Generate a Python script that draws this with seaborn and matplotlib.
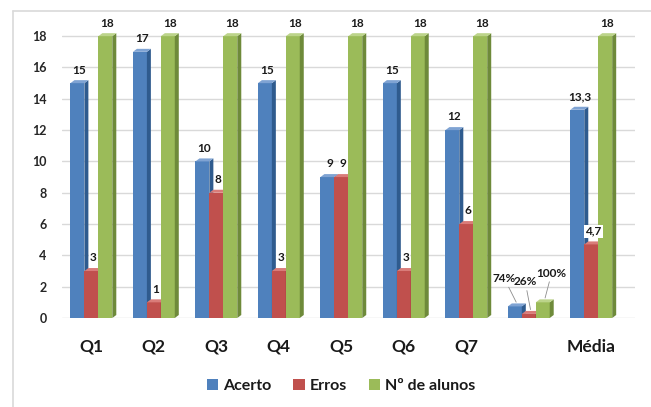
import matplotlib
matplotlib.use("Agg")
import matplotlib.pyplot as plt
from matplotlib.patches import Polygon, Patch
from matplotlib.lines import Line2D
import seaborn as sns
import pandas as pd

# --- data -------------------------------------------------------------
categories = ["Q1", "Q2", "Q3", "Q4", "Q5", "Q6", "Q7", " ", "Média"]
series = ["Acerto", "Erros", "Nº de alunos"]
acerto = [15, 17, 10, 15, 9, 15, 12, 0.74, 13.3]
erros = [3, 1, 8, 3, 9, 3, 6, 0.26, 4.7]
alunos = [18, 18, 18, 18, 18, 18, 18, 1.00, 18]
acerto_labels = ["15", "17", "10", "15", "9", "15", "12", "74%", "13,3"]
erros_labels = ["3", "1", "8", "3", "9", "3", "6", "26%", "4,7"]
alunos_labels = ["18", "18", "18", "18", "18", "18", "18", "100%", "18"]
y_ticks = [0, 2, 4, 6, 8, 10, 12, 14, 16, 18]

colors = ["#4F81BD", "#C0504D", "#9BBB59"]
side_colors = ["#2F5B8E", "#8E3A37", "#6E8A3A"]
top_colors = ["#7FA3D3", "#D97C79", "#BCD48A"]

df = pd.DataFrame({
    "cat": categories * 3,
    "serie": [s for s in series for _ in categories],
    "val": acerto + erros + alunos,
})
label_sets = [acerto_labels, erros_labels, alunos_labels]

# --- figure -------------------------------------------------------------
sns.set_theme(style="white")
plt.rcParams["font.family"] = ["Lato", "DejaVu Sans"]

W, H = 651, 407
fig = plt.figure(figsize=(W / 100, H / 100), dpi=100)

# outer frame of the chart area
fig.add_artist(Line2D([13 / W, 13 / W], [0, 1 - 11 / H], transform=fig.transFigure,
                      color="#D9D9D9", lw=1.2))
fig.add_artist(Line2D([13 / W, 1], [1 - 11 / H, 1 - 11 / H], transform=fig.transFigure,
                      color="#D9D9D9", lw=1.2))

ax = fig.add_axes([62 / W, 1 - 318 / H, 573 / W, (318 - 26) / H])
sns.barplot(data=df, x="cat", y="val", hue="serie", order=categories,
            hue_order=series, palette=colors, width=0.67, saturation=1,
            linewidth=0, legend=False, ax=ax)

ax.set_xlim(-0.47, 8.7)
ax.set_ylim(0, 18.65)
ax.set_yticks(y_ticks)
ax.grid(axis="y", color="#D9D9D9", lw=1.0)
ax.set_axisbelow(True)
for s in ax.spines.values():
    s.set_visible(False)
ax.set_xlabel("")
ax.set_ylabel("")
ax.tick_params(axis="y", length=0, pad=11, labelsize=9, labelcolor="#262626")
ax.tick_params(axis="x", length=0, pad=15, labelsize=12.5, labelcolor="#1a1a1a")
for t in ax.get_yticklabels() + ax.get_xticklabels():
    t.set_fontweight("bold")

# depth of the bars, in data units (about 4 px right, 3 px up)
fig.canvas.draw()
p0 = ax.transData.transform((0, 0))
p1 = ax.transData.transform((1, 1))
dx = 4 / (p1[0] - p0[0])
dy = 3 / (p1[1] - p0[1])

pct_offsets = [(-9, 14), (-4, 17), (5, 15)]
for i, cont in enumerate(ax.containers):
    for j, bar in enumerate(cont):
        x, w, h = bar.get_x(), bar.get_width(), bar.get_height()
        z = 2 + i
        bar.set_zorder(z)
        ax.add_patch(Polygon([(x + w, 0), (x + w + dx, dy), (x + w + dx, h + dy), (x + w, h)],
                             closed=True, facecolor=side_colors[i], lw=0, zorder=z))
        ax.add_patch(Polygon([(x, h), (x + w, h), (x + w + dx, h + dy), (x + dx, h + dy)],
                             closed=True, facecolor=top_colors[i], lw=0, zorder=z))
        text = label_sets[i][j]
        if categories[j].strip() == "":
            ax.annotate(text, (x + w / 2 + dx / 2, h + dy), xytext=pct_offsets[i],
                        textcoords="offset points", ha="center", va="bottom",
                        fontsize=8.5, fontweight="bold", color="#1a1a1a", zorder=10,
                        arrowprops=dict(arrowstyle="-", color="#8C8C8C", lw=0.6,
                                        shrinkA=0, shrinkB=1))
        else:
            bbox = dict(boxstyle="square,pad=0.1", fc="white", ec="none") if i == 1 else None
            ax.annotate(text, (x + w / 2, h), xytext=(1.5, 5.5),
                        textcoords="offset points", ha="center", va="bottom",
                        fontsize=8.5, fontweight="bold", color="#1a1a1a",
                        bbox=bbox, zorder=10, annotation_clip=False)

handles = [Patch(facecolor=c, edgecolor="none", label=s) for c, s in zip(colors, series)]
leg = fig.legend(handles=handles, loc="center", bbox_to_anchor=(341 / W, 1 - 386 / H),
                 ncol=3, frameon=False, fontsize=11.5, handlelength=0.7,
                 handleheight=0.7, handletextpad=0.3, columnspacing=1.4)
for t in leg.get_texts():
    t.set_fontweight("bold")
    t.set_color("#1a1a1a")

fig.savefig("out.png", dpi=100, facecolor="white")
